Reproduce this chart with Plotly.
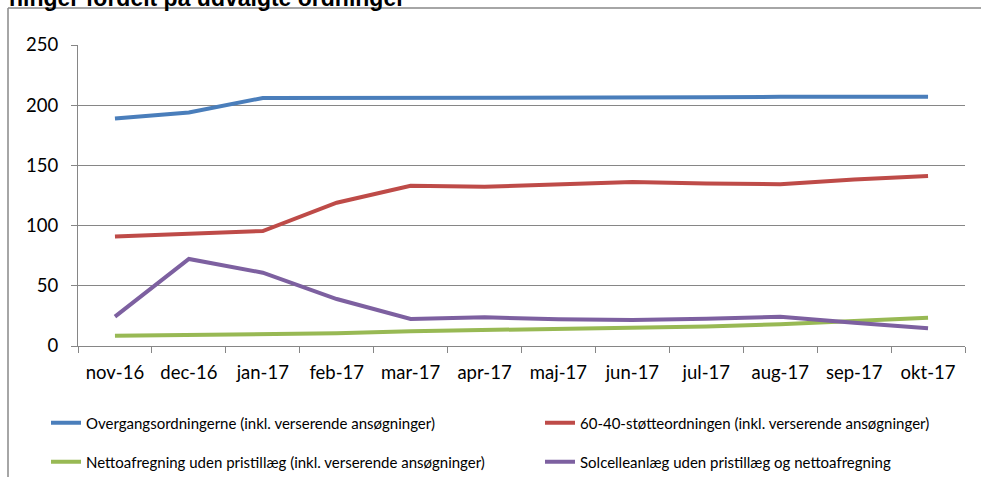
import plotly.graph_objects as go

categories = ["nov-16", "dec-16", "jan-17", "feb-17", "mar-17", "apr-17",
              "maj-17", "jun-17", "jul-17", "aug-17", "sep-17", "okt-17"]

overgang = [189, 194, 206, 206, 206, 206, 206, 206, 206.5, 207, 207, 207]
stoette_60_40 = [91, 93.6, 95.5, 119, 133, 132.3, 134.5, 136.2, 135, 134.3, 138.3, 141.2]
netto = [8.6, 9.1, 10, 10.5, 12.3, 13.2, 13.9, 14.7, 16.2, 18, 20.6, 23.5]
solcelle = [24.4, 72.3, 60.9, 39, 22.4, 23.8, 22.3, 21.5, 22.7, 24.3, 19.4, 14.7]

names = ["Overgangsordningerne (inkl. verserende ansøgninger)",
         "60-40-støtteordningen (inkl. verserende ansøgninger)",
         "Nettoafregning uden pristillæg (inkl. verserende ansøgninger)",
         "Solcelleanlæg uden pristillæg og nettoafregning"]
colors = ["#4A7EBB", "#BE4B48", "#98B954", "#7D60A0"]
y_ticks = [0, 50, 100, 150, 200, 250]
title_text = "ninger fordelt på udvalgte ordninger"

W, H = 981, 477
L, R, T, B = 78, 965, 45, 346

def px(xp):
    return (xp - L) / (R - L)

def py(yp):
    return (B - yp) / (B - T)

# legend anchor positions (pixels)
leg_pos = [(46, 423), (540, 423), (46, 462), (540, 462)]
leg_ids = ["legend", "legend2", "legend3", "legend4"]

fig = go.Figure()
series = [overgang, stoette_60_40, netto, solcelle]
for s, n, c, lg in zip(series, names, colors, leg_ids):
    fig.add_trace(go.Scatter(x=categories, y=s, name=n, mode="lines",
                             line=dict(color=c, width=4), legend=lg))

grid = "#868686"
leg_layout = {}
for lg, (lx, ly) in zip(leg_ids, leg_pos):
    leg_layout[lg] = dict(orientation="h", x=px(lx), y=py(ly), xanchor="left",
                          yanchor="middle", font=dict(size=15, family="Lato"),
                          bgcolor="rgba(0,0,0,0)")

fig.update_layout(
    width=W, height=H,
    margin=dict(l=L, r=W - R, t=T, b=H - B, autoexpand=False),
    paper_bgcolor="white", plot_bgcolor="white",
    font=dict(family="Lato", color="#000000"),
    xaxis=dict(
        type="category", tickson="boundaries", ticks="outside", ticklen=6,
        tickcolor=grid, tickwidth=1.3, showline=True, linecolor=grid, linewidth=1.3,
        showgrid=False, tickfont=dict(size=18.5, family="Lato"), range=[-0.5, 11.5],
        ticklabelstandoff=10,
    ),
    yaxis=dict(
        range=[0, 250], tickvals=y_ticks, ticks="outside", ticklen=6,
        tickcolor=grid, tickwidth=1.3, showline=True, linecolor=grid, linewidth=1.3,
        showgrid=True, gridcolor=grid, gridwidth=1.3, zeroline=False,
        tickfont=dict(size=18.5, family="Lato"), ticklabelstandoff=9,
    ),
    showlegend=True,
    **leg_layout,
)

fig.add_annotation(text="<b>" + title_text + "</b>", xref="paper", yref="paper",
                   x=px(7), y=py(13), xanchor="left", yanchor="bottom", showarrow=False,
                   font=dict(family="Liberation Sans", size=23, color="black"))

fig.add_shape(type="line", xref="paper", yref="paper", x0=px(8), x1=px(8),
              y0=py(8), y1=py(490), line=dict(color="#888888", width=1.5))
fig.add_shape(type="line", xref="paper", yref="paper", x0=px(8), x1=px(995),
              y0=py(8), y1=py(8), line=dict(color="#888888", width=1.5))

fig.write_html("out.html", config={"displayModeBar": False},
               post_script="document.body.style.margin='0';document.body.style.overflow='hidden';")
